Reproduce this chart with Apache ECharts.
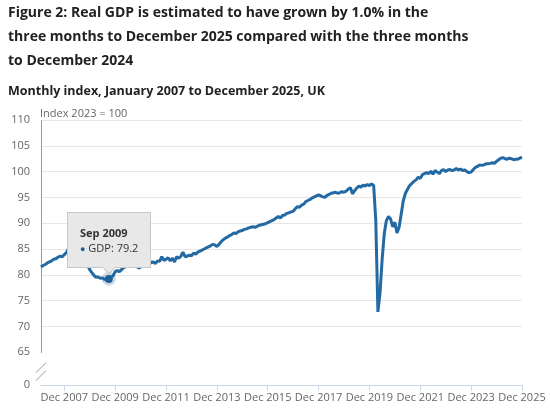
<!DOCTYPE html>
<html>
<head>
<meta charset="utf-8">
<script src="https://cdn.jsdelivr.net/npm/echarts@6/dist/echarts.min.js"></script>
<style>
html, body { margin: 0; padding: 0; background: #fff; }
#chart { width: 550px; height: 410px; }
.gdp-tip::before, .gdp-tip::after {
    content: ''; position: absolute; left: 50%; width: 0; height: 0;
    border-left: 7px solid transparent; border-right: 7px solid transparent;
}
.gdp-tip::before { bottom: -8px; margin-left: -7px; border-top: 8px solid #c8c8c8; }
.gdp-tip::after { bottom: -6px; margin-left: -7px; border-top: 7px solid #e8e8e8; }
</style>
</head>
<body>
<div id="chart"></div>
<script>
// monthly GDP index, 2023 = 100
var gdp2007 = [81.5, 81.8, 82.0, 82.3, 82.5, 82.7, 83.0, 83.1, 83.4, 83.6, 83.5, 83.9];
var gdp2008 = [84.3, 85.1, 84.6, 84.7, 84.4, 84.1, 83.8, 83.4, 83.0, 82.5, 81.8, 81.0];
var gdp2009 = [80.4, 79.9, 79.5, 79.6, 79.3, 79.4, 79.1, 79.3, 79.2, 79.5, 79.8, 80.6];
var gdp2010 = [80.8, 80.6, 81.0, 81.4, 81.6, 81.8, 81.9, 82.1, 81.8, 82.0, 81.3, 81.5];
var gdp2011 = [82.0, 82.4, 82.2, 82.9, 82.3, 82.5, 82.2, 82.7, 82.6, 83.5, 82.8, 83.0];
var gdp2012 = [83.3, 82.7, 83.2, 82.5, 83.5, 83.2, 83.6, 84.4, 83.5, 83.6, 83.8, 83.7];
var gdp2013 = [84.2, 84.0, 84.4, 84.6, 84.8, 85.0, 85.2, 85.4, 85.6, 85.9, 85.8, 85.5];
var gdp2014 = [85.9, 86.4, 86.8, 87.1, 87.3, 87.6, 87.8, 88.1, 88.0, 88.3, 88.5, 88.6];
var gdp2015 = [88.8, 88.9, 89.1, 89.2, 89.3, 89.2, 89.4, 89.6, 89.7, 89.8, 89.9, 90.1];
var gdp2016 = [90.3, 90.5, 90.7, 91.0, 91.3, 91.0, 91.5, 91.6, 91.9, 92.0, 92.2, 92.3];
var gdp2017 = [92.8, 93.2, 93.1, 93.5, 93.7, 94.2, 94.4, 94.6, 94.9, 95.1, 95.3, 95.5];
var gdp2018 = [95.3, 95.1, 95.0, 95.4, 95.6, 95.8, 95.9, 96.0, 95.8, 95.9, 96.1, 96.0];
var gdp2019 = [96.2, 96.6, 96.9, 95.7, 96.3, 96.8, 97.2, 97.0, 97.4, 97.2, 97.5, 97.3];
var gdp2020 = [97.6, 97.3, 90.5, 72.8, 76.5, 83.0, 88.0, 90.5, 91.3, 90.8, 89.3, 90.2];
var gdp2021 = [88.1, 89.2, 91.8, 94.4, 95.8, 96.6, 97.3, 97.7, 98.1, 98.4, 98.9, 98.7];
var gdp2022 = [99.4, 99.6, 99.8, 99.6, 100.1, 99.5, 100.2, 99.9, 99.6, 100.2, 100.4, 100.0];
var gdp2023 = [100.3, 100.4, 100.2, 100.3, 100.6, 100.3, 100.5, 100.2, 100.3, 100.0, 99.8, 99.9];
var gdp2024 = [100.4, 100.8, 101.0, 101.3, 101.2, 101.3, 101.5, 101.5, 101.6, 101.7, 101.6, 102.0];
var gdp2025 = [102.3, 102.6, 102.7, 102.5, 102.4, 102.6, 102.5, 102.3, 102.4, 102.4, 102.6, 102.8];

var monthNames = ['Jan', 'Feb', 'Mar', 'Apr', 'May', 'Jun', 'Jul', 'Aug', 'Sep', 'Oct', 'Nov', 'Dec'];
var firstYear = 2007, lastYear = 2025;
var highlightMonth = 'Sep 2009';
var yBreak = { start: 0, end: 65 };

var months = [];
for (var y = firstYear; y <= lastYear; y++) {
    for (var m = 0; m < 12; m++) months.push(monthNames[m] + ' ' + y);
}
var gdp = [].concat(gdp2007, gdp2008, gdp2009, gdp2010, gdp2011, gdp2012, gdp2013,
    gdp2014, gdp2015, gdp2016, gdp2017, gdp2018, gdp2019, gdp2020, gdp2021,
    gdp2022, gdp2023, gdp2024, gdp2025);

var font = '"Open Sans", sans-serif';
var cssFont = "'Open Sans', sans-serif";
var chart = echarts.init(document.getElementById('chart'));

// only every second December gets a label/tick
function everyOtherDec(idx) {
    return idx % 24 === 11;
}

var option = {
    animation: false,
    textStyle: { fontFamily: font },
    title: [
        {
            text: 'Figure 2: Real GDP is estimated to have grown by 1.0% in the\nthree months to December 2025 compared with the three months\nto December 2024',
            left: 8, top: 1, padding: 0,
            textStyle: { fontFamily: font, fontSize: 14, fontWeight: 'bold', color: '#222', lineHeight: 24 }
        },
        {
            text: 'Monthly index, January 2007 to December 2025, UK',
            left: 8, top: 85, padding: 0,
            textStyle: { fontFamily: font, fontSize: 12.5, fontWeight: 'bold', color: '#222' }
        }
    ],
    grid: { left: 41, right: 28, top: 120, bottom: 25 },
    tooltip: {
        trigger: 'axis',
        axisPointer: { type: 'none' },
        alwaysShowContent: true,
        className: 'gdp-tip',
        backgroundColor: '#e8e8e8',
        borderColor: '#c8c8c8',
        borderWidth: 1,
        borderRadius: 0,
        padding: [13, 12, 11, 12],
        extraCssText: 'box-shadow:none;',
        position: function (point, params, dom, rect, size) {
            return [point[0] - size.contentSize[0] / 2, point[1] - size.contentSize[1] - 11];
        },
        formatter: function (params) {
            var p = params[0];
            return '<div style="font:bold 11px ' + cssFont + ';color:#333;line-height:14px">' + p.name + '</div>' +
                '<div style="font:11px ' + cssFont + ';color:#333;line-height:15px">' +
                '<span style="color:#206095;font-size:9px">\u25CF</span> GDP: ' + p.value.toFixed(1) + '</div>';
        }
    },
    xAxis: {
        type: 'category',
        data: months,
        boundaryGap: false,
        axisLine: { lineStyle: { color: '#ccd6eb' } },
        axisTick: { interval: everyOtherDec, length: 6, lineStyle: { color: '#ccd6eb' } },
        axisLabel: { interval: everyOtherDec, color: '#666', fontSize: 11, margin: 7 },
        splitLine: { show: false }
    },
    yAxis: {
        type: 'value',
        min: 0, max: 110, interval: 5,
        breaks: [{ start: yBreak.start, end: yBreak.end, gap: '12.38%' }],
        breakArea: { show: false },
        name: 'Index 2023 = 100',
        nameLocation: 'end',
        nameGap: 1,
        nameTextStyle: { align: 'left', color: '#666', fontSize: 11, padding: [0, 0, 0, -1] },
        axisLine: { show: true, lineStyle: { color: '#999' } },
        axisTick: { show: false },
        axisLabel: { color: '#666', fontSize: 11, margin: 11, hideOverlap: false },
        splitLine: { lineStyle: { color: '#e6e6e6' } }
    },
    series: [{
        name: 'GDP',
        type: 'line',
        data: gdp,
        showSymbol: false,
        symbol: 'circle',
        symbolSize: 8,
        lineStyle: { color: '#206095', width: 3 },
        itemStyle: { color: '#206095' },
        emphasis: {
            scale: false,
            itemStyle: { color: '#206095', borderColor: 'rgba(32,96,149,0.22)', borderWidth: 6 }
        }
    }]
};

chart.setOption(option);

// "//" marker on the y axis line in the middle of the break
var bTop = chart.convertToPixel({ yAxisIndex: 0 }, yBreak.end);
var bBot = chart.convertToPixel({ yAxisIndex: 0 }, yBreak.start);
var axX = chart.convertToPixel({ xAxisIndex: 0 }, 0);
var midY = (bTop + bBot) / 2 + 3;
chart.setOption({
    graphic: [
        { type: 'rect', shape: { x: axX - 2, y: midY - 4, width: 4, height: 8 }, style: { fill: '#fff' }, z: 100 },
        { type: 'line', shape: { x1: axX - 5, y1: midY + 1, x2: axX + 5, y2: midY - 9 }, style: { stroke: '#999', lineWidth: 1 }, z: 101 },
        { type: 'line', shape: { x1: axX - 5, y1: midY + 9, x2: axX + 5, y2: midY - 1 }, style: { stroke: '#999', lineWidth: 1 }, z: 101 }
    ]
});

chart.dispatchAction({ type: 'showTip', seriesIndex: 0, dataIndex: months.indexOf(highlightMonth) });
</script>
</body>
</html>
